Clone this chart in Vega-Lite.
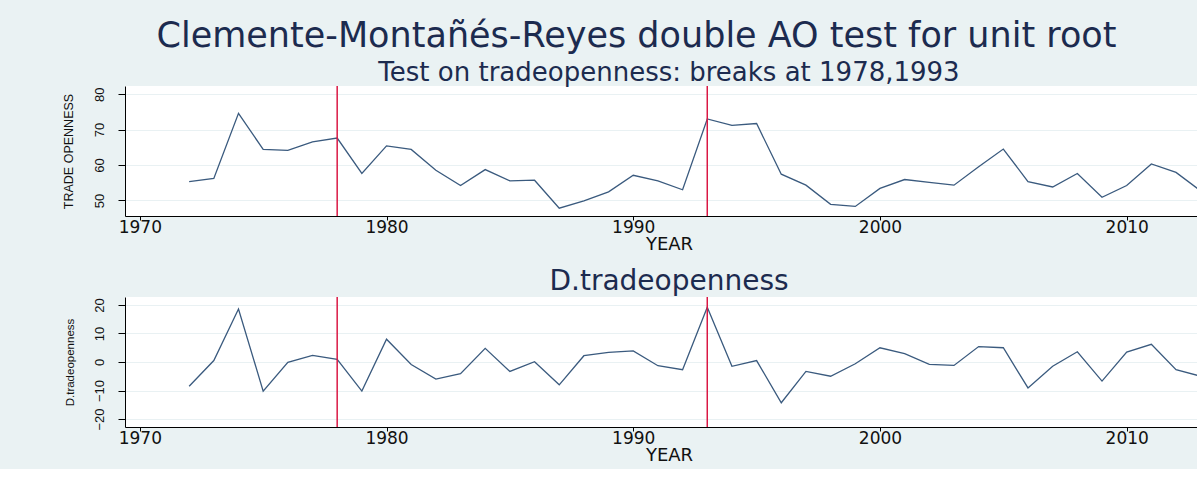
{
  "$schema": "https://vega.github.io/schema/vega-lite/v6.json",
  "background": "#EAF2F3",
  "padding": {"left": 61, "top": 19, "right": 0, "bottom": 5},
  "title": {
    "text": "Clemente-Montañés-Reyes double AO test for unit root",
    "font": "DejaVu Sans",
    "fontSize": 35,
    "fontWeight": "normal",
    "color": "#1C2B4F",
    "anchor": "middle",
    "offset": 6,
    "dx": 7
  },
  "datasets": {
    "ts": [
      {"year": 1972, "to": 55.3, "d": -8.5},
      {"year": 1973, "to": 56.2, "d": 0.5},
      {"year": 1974, "to": 74.6, "d": 18.6},
      {"year": 1975, "to": 64.4, "d": -10.2},
      {"year": 1976, "to": 64.1, "d": -0.1},
      {"year": 1977, "to": 66.5, "d": 2.3},
      {"year": 1978, "to": 67.6, "d": 0.9},
      {"year": 1979, "to": 57.6, "d": -10.2},
      {"year": 1980, "to": 65.4, "d": 8.0},
      {"year": 1981, "to": 64.4, "d": -0.9},
      {"year": 1982, "to": 58.5, "d": -6.0},
      {"year": 1983, "to": 54.2, "d": -4.1},
      {"year": 1984, "to": 58.7, "d": 4.8},
      {"year": 1985, "to": 55.5, "d": -3.3},
      {"year": 1986, "to": 55.7, "d": 0.1},
      {"year": 1987, "to": 47.8, "d": -8.0},
      {"year": 1988, "to": 49.9, "d": 2.2},
      {"year": 1989, "to": 52.4, "d": 3.4},
      {"year": 1990, "to": 57.1, "d": 3.9},
      {"year": 1991, "to": 55.5, "d": -1.3},
      {"year": 1992, "to": 53.0, "d": -2.7},
      {"year": 1993, "to": 73.0, "d": 19.2},
      {"year": 1994, "to": 71.2, "d": -1.5},
      {"year": 1995, "to": 71.7, "d": 0.5},
      {"year": 1996, "to": 57.4, "d": -14.3},
      {"year": 1997, "to": 54.3, "d": -3.3},
      {"year": 1998, "to": 48.9, "d": -5.0},
      {"year": 1999, "to": 48.3, "d": -0.6},
      {"year": 2000, "to": 53.4, "d": 5.0},
      {"year": 2001, "to": 55.9, "d": 2.9},
      {"year": 2002, "to": 55.1, "d": -0.8},
      {"year": 2003, "to": 54.3, "d": -1.2},
      {"year": 2004, "to": 59.5, "d": 5.4},
      {"year": 2005, "to": 64.5, "d": 5.0},
      {"year": 2006, "to": 55.3, "d": -9.1},
      {"year": 2007, "to": 53.8, "d": -1.5},
      {"year": 2008, "to": 57.6, "d": 3.6},
      {"year": 2009, "to": 50.9, "d": -6.7},
      {"year": 2010, "to": 54.2, "d": 3.5},
      {"year": 2011, "to": 60.3, "d": 6.2},
      {"year": 2012, "to": 57.9, "d": -2.7},
      {"year": 2013, "to": 52.7, "d": -5.0}
    ],
    "breaks": [{"year": 1978}, {"year": 1993}]
  },
  "spacing": 15,
  "vconcat": [
    {
      "width": 1072,
      "height": 130,
      "title": {"text": "Test on tradeopenness: breaks at 1978,1993", "fontSize": 26, "offset": -1},
      "layer": [
        {
          "data": {"name": "ts"},
          "mark": {"type": "line", "color": "#3A5A7E", "strokeWidth": 1.3, "clip": true},
          "encoding": {
            "x": {"field": "year", "type": "quantitative", "scale": {"domain": [1969.4, 2012.85], "nice": false, "zero": false}, "axis": {"title": "YEAR", "values": [1970, 1980, 1990, 2000, 2010], "format": "d"}},
            "y": {"field": "to", "type": "quantitative", "scale": {"domain": [45.6, 82.3], "nice": false, "zero": false}, "axis": {"title": "TRADE OPENNESS", "values": [50, 60, 70, 80], "titleFontSize": 12.5}}
          }
        },
        {
          "data": {"name": "breaks"},
          "mark": {"type": "rule", "color": "#DA1844", "strokeWidth": 1.5},
          "encoding": {"x": {"field": "year", "type": "quantitative"}}
        }
      ]
    },
    {
      "width": 1072,
      "height": 130,
      "title": {"text": "D.tradeopenness", "fontSize": 28, "offset": 0},
      "layer": [
        {
          "data": {"name": "ts"},
          "mark": {"type": "line", "color": "#3A5A7E", "strokeWidth": 1.3, "clip": true},
          "encoding": {
            "x": {"field": "year", "type": "quantitative", "scale": {"domain": [1969.4, 2012.85], "nice": false, "zero": false}, "axis": {"title": "YEAR", "values": [1970, 1980, 1990, 2000, 2010], "format": "d"}},
            "y": {"field": "d", "type": "quantitative", "scale": {"domain": [-22.8, 22.8], "nice": false, "zero": false}, "axis": {"title": "D.tradeopenness", "values": [-20, -10, 0, 10, 20], "titleFontSize": 11.5}}
          }
        },
        {
          "data": {"name": "breaks"},
          "mark": {"type": "rule", "color": "#DA1844", "strokeWidth": 1.5},
          "encoding": {"x": {"field": "year", "type": "quantitative"}}
        }
      ]
    }
  ],
  "config": {
    "view": {"stroke": null, "fill": "white"},
    "title": {"font": "DejaVu Sans", "fontWeight": "normal", "color": "#1C2B4F", "anchor": "middle", "dx": 8},
    "axisX": {
      "grid": false,
      "domainColor": "#000000",
      "domainWidth": 1,
      "tickColor": "#000000",
      "tickSize": 4,
      "labelFont": "DejaVu Sans",
      "labelFontSize": 17,
      "labelColor": "#111111",
      "labelPadding": -1,
      "labelFlush": false,
      "titleFont": "DejaVu Sans",
      "titleFontSize": 18,
      "titleFontWeight": "normal",
      "titleColor": "#111111",
      "titlePadding": 0,
      "titleX": 544
    },
    "axisY": {
      "grid": true,
      "gridColor": "#E9F1F3",
      "gridWidth": 1,
      "domainColor": "#000000",
      "domainWidth": 1,
      "tickColor": "#000000",
      "tickSize": 7,
      "labelFont": "Liberation Sans",
      "labelFontSize": 13,
      "labelColor": "#111111",
      "labelAngle": 270,
      "labelAlign": "center",
      "labelBaseline": "bottom",
      "labelPadding": 12,
      "labelFlush": false,
      "titleFont": "Liberation Sans",
      "titleFontWeight": "normal",
      "titleColor": "#111111",
      "titlePadding": 18
    }
  }
}
